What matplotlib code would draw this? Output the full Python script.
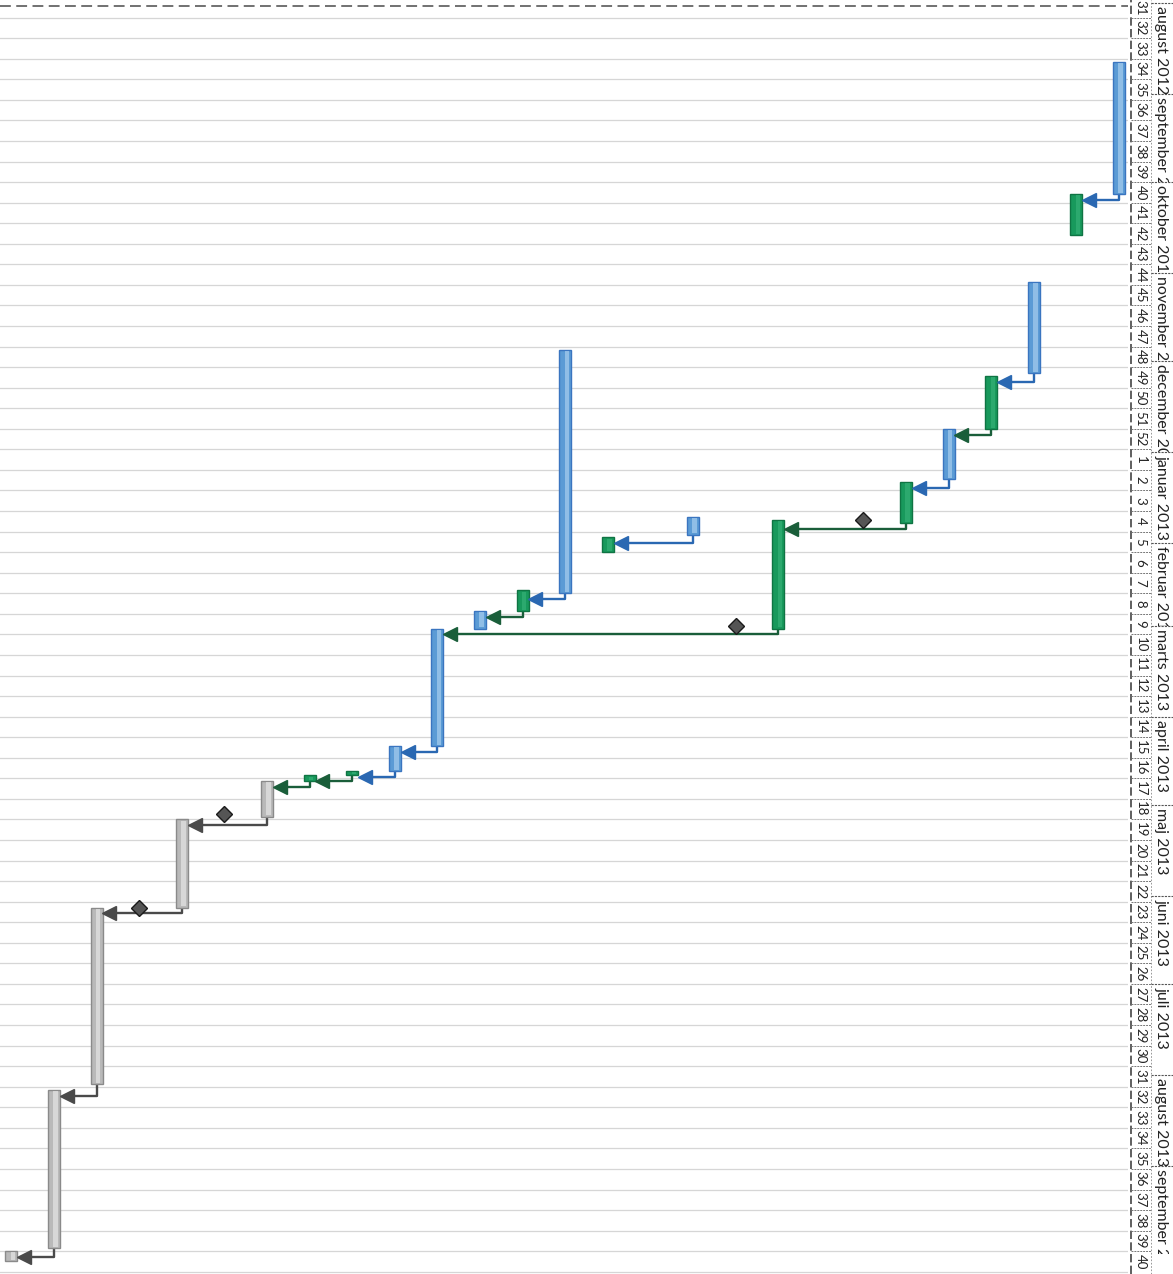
import numpy as np
import matplotlib
matplotlib.use("Agg")
import matplotlib.pyplot as plt
from matplotlib.patches import Rectangle

plt.rcParams['font.family'] = ['Lato', 'DejaVu Sans']

# Gantt printout turned on its side: time runs downwards, one column per task row.
# column 0 is the last row of the plan (left edge), column 26 the first one.
task_col = [26, 25, 24, 23, 22, 21, 18, 16, 14, 13, 12, 11, 10, 9, 8, 7, 6, 4, 2, 1, 0]
task_kind = ['blue', 'green', 'blue', 'green', 'blue', 'green', 'green', 'blue', 'green',
             'blue', 'green', 'blue', 'blue', 'blue', 'green', 'green',
             'gray', 'gray', 'gray', 'gray', 'gray']
task_start = ['2012-08-21', '2012-10-05', '2012-11-04', '2012-12-06', '2012-12-24',
              '2013-01-11', '2013-01-24', '2013-01-23', '2013-01-30', '2012-11-27',
              '2013-02-17', '2013-02-24', '2013-03-02', '2013-04-11', '2013-04-19T12',
              '2013-04-21', '2013-04-23', '2013-05-06', '2013-06-05', '2013-08-06',
              '2013-09-30']
task_end = ['2012-10-05', '2012-10-19', '2012-12-05', '2012-12-24', '2013-01-10',
            '2013-01-25', '2013-03-02', '2013-01-29', '2013-02-04', '2013-02-18',
            '2013-02-24', '2013-03-02', '2013-04-11', '2013-04-19T12', '2013-04-21',
            '2013-04-23', '2013-05-05', '2013-06-05', '2013-08-04', '2013-09-29',
            '2013-10-03T12']

# milestones
ms_col = [20, 17, 5, 3]
ms_date = ['2013-01-24', '2013-03-01', '2013-05-04', '2013-06-05']

# finish-to-start links (column of predecessor -> column of successor)
link_from = [26, 24, 23, 22, 21, 18, 16, 13, 12, 10, 9, 8, 7, 6, 4, 2, 1]
link_to = [25, 23, 22, 21, 18, 10, 14, 12, 11, 9, 8, 7, 6, 4, 2, 1, 0]

# timescale header
month_names = ['august 2012', 'september 2012', 'oktober 2012', 'november 2012',
               'december 2012', 'januar 2013', 'februar 2013', 'marts 2013',
               'april 2013', 'maj 2013', 'juni 2013', 'juli 2013', 'august 2013',
               'september 2013']
month_start = ['2012-08-01', '2012-09-01', '2012-10-01', '2012-11-01', '2012-12-01',
               '2013-01-01', '2013-02-01', '2013-03-01', '2013-04-01', '2013-05-01',
               '2013-06-01', '2013-07-01', '2013-08-01', '2013-09-01', '2013-10-01']
week_labels = list(range(31, 53)) + list(range(1, 41))
first_monday = '2012-07-30'

BASE = np.datetime64('2012-09-01T00')


def day(s):
    return (np.datetime64(s) - BASE) / np.timedelta64(1, 'D')


colors = {
    'blue': ('#5b9bd5', '#3a75c0', '#a8cdee'),
    'green': ('#18995c', '#0f7443', '#35b077'),
    'gray': ('#b9b9b9', '#8a8a8a', '#e4e4e4'),
}
link_color = {'blue': '#2a68b2', 'green': '#1a5e3a', 'gray': '#4a4a4a'}

fig = plt.figure(figsize=(11.73, 12.74), dpi=100)
ax = fig.add_axes([0, 0, 1128 / 1173, 1])
hax = fig.add_axes([1128 / 1173, 0, 45 / 1173, 1], sharey=ax)

# visible window: a little before august 2012 down to early october 2013
ylo, yhi = -94 / 2.937, (1274 - 94) / 2.937
ax.set_xlim(-11.4 / 42.6, (1128 - 11.4) / 42.6)
ax.set_ylim(yhi, ylo)
ax.axis('off')

# week grid lines
mondays = day(first_monday) + 7 * np.arange(len(week_labels) + 1)
for m in mondays:
    ax.axhline(m, color='#d6d6d6', lw=0.9, zorder=0)
# top edge of the printed table
ax.plot([0, 1], [0.995, 0.995], transform=ax.transAxes, color='#666666', lw=1.3,
        ls=(0, (6, 3)), zorder=1)

hw = 0.14
info = {}
for c, k, s, e in zip(task_col, task_kind, task_start, task_end):
    s, e = day(s), day(e)
    info[c] = (k, s, e)
    face, edge, light = colors[k]
    ax.add_patch(Rectangle((c - hw, s), 2 * hw, e - s, facecolor=face, edgecolor=edge,
                           lw=1.0, zorder=3))
    ax.add_patch(Rectangle((c - hw * 0.1, s + 0.4), hw * 0.75, max(e - s - 0.8, 0.2),
                           facecolor=light, edgecolor='none', alpha=0.7, zorder=3))

for a, b in zip(link_from, link_to):
    ka, sa, ea = info[a]
    kb, sb, eb = info[b]
    yh = max(ea, sb) + 2.0
    col = link_color[ka]
    ax.plot([a, a, b + hw + 0.12], [ea, yh, yh], color=col, lw=1.7, zorder=2)
    ax.plot(b + hw + 0.16, yh, marker='<', ms=10, color=col, zorder=4)

ax.plot(ms_col, [day(d) for d in ms_date], ls='none', marker='D', ms=8.5,
        markerfacecolor='#555555', markeredgecolor='#1a1a1a', zorder=4)

# header
hax.set_xlim(0, 1)
hax.axis('off')
hax.axvline(0.06, color='#444444', lw=1.2, ls=(0, (5, 2)))
hax.axvline(0.5, color='#888888', lw=0.6, ls=(0, (2, 2)))
ms = [day(m) for m in month_start]
for i, name in enumerate(month_names):
    y0, y1 = ms[i], ms[i + 1]
    hax.plot([0.5, 1], [y0, y0], color='#555555', lw=0.8, ls=(0, (2, 1)))
    t = hax.text(0.74, y0 + 1.0, name, rotation=-90, rotation_mode='anchor',
                 ha='left', va='center', fontsize=11.5, color='#222222', clip_on=True)
    t.set_clip_path(Rectangle((0.5, y0), 0.5, y1 - y0, transform=hax.transData))
for i, w in enumerate(week_labels):
    hax.plot([0.06, 0.5], [mondays[i], mondays[i]], color='#777777', lw=0.7,
             ls=(0, (2, 1)))
    hax.text(0.28, mondays[i] + 3.5, str(w), rotation=-90, ha='center', va='center',
             fontsize=9.5, color='#222222', clip_on=True)

fig.savefig('out.png', dpi=100)
